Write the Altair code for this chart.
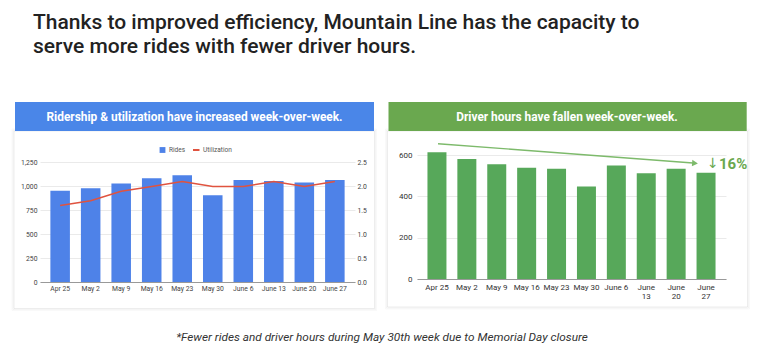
import altair as alt
import pandas as pd

weeks = ["Apr 25", "May 2", "May 9", "May 16", "May 23", "May 30", "June 6", "June 13", "June 20", "June 27"]
rides = [955, 980, 1030, 1084, 1117, 908, 1066, 1056, 1042, 1066]
utilization = [1.6, 1.7, 1.9, 2.0, 2.1, 2.0, 2.0, 2.1, 2.0, 2.1]
driver_hours = [614, 582, 556, 539, 534, 448, 550, 513, 534, 515]

title_lines = ["Thanks to improved efficiency, Mountain Line has the capacity to",
               "serve more rides with fewer driver hours."]
left_header = "Ridership & utilization have increased week-over-week."
right_header = "Driver hours have fallen week-over-week."
footnote = "*Fewer rides and driver hours during May 30th week due to Memorial Day closure"
change_arrow = "↓"
change_label = "16%"

FONT = "Roboto"
BLUE = "#4e82e8"
BLUE_HDR = "#4a86e8"
RED = "#e0533f"
GREEN = "#57a85a"
GREEN_HDR = "#6aa84f"

df = pd.DataFrame({"week": weeks, "rides": rides, "util": utilization, "hours": driver_hours})
one = pd.DataFrame({"k": [0]})

# page -> panel-local pixel helpers
LX0, RX0, Y0 = 40, 417, 134
LW, RW = 315, 309
LH, RH = 148, 145


def lx(v):
    return v - LX0


def rx(v):
    return v - RX0


def yy(v):
    return v - Y0


def rect(x1, x2, y1, y2, **kw):
    return alt.Chart(one).mark_rect(**kw).encode(
        x=alt.value(x1), x2=alt.value(x2), y=alt.value(y1), y2=alt.value(y2))


def text(s, x, y, **kw):
    return alt.Chart(one).mark_text(**kw).encode(
        x=alt.value(x), y=alt.value(y), text=alt.value(s))


def card(x1, x2, y1, y2):
    layers = []
    for d, op in [(3, 0.025), (2, 0.04), (1, 0.07)]:
        layers.append(rect(x1 - d, x2 + d, y1 - d + 1, y2 + d + 1,
                           fill="white", fillOpacity=0, stroke="#000000",
                           strokeOpacity=op, strokeWidth=1))
    return layers


# ---------------- left panel ----------------
bg = rect(lx(8), lx(750), yy(8), yy(348), fill="white", fillOpacity=0, strokeOpacity=0)

left_card = card(lx(15), lx(373.5), yy(131), yy(306.5))
left_hdr = rect(lx(15), lx(374), yy(102), yy(131), fill=BLUE_HDR)
left_hdr_text = text(left_header, lx(194.5), yy(116.7), font=FONT, fontSize=11.9,
                     fontWeight="bold", color="white", align="center", baseline="middle")
t1 = text(title_lines[0], lx(33), yy(22.5), font=FONT, fontSize=21, fontWeight=500,
          color="#222222", align="left", baseline="middle")
t2 = text(title_lines[1], lx(33), yy(46.5), font=FONT, fontSize=21, fontWeight=500,
          color="#222222", align="left", baseline="middle")
foot = text(footnote, lx(382), yy(337), font=FONT, fontSize=11.8, fontStyle="italic",
            color="#333333", align="center", baseline="middle")

leg_sq = alt.Chart(one).mark_square(filled=True, color=BLUE, opacity=1, size=34).encode(
    x=alt.value(lx(162.5)), y=alt.value(yy(150)))
leg_t1 = text("Rides", lx(169), yy(150), font=FONT, fontSize=6.5, color="#555555",
              align="left", baseline="middle")
leg_ln = alt.Chart(one).mark_rule(color=RED, strokeWidth=2).encode(
    x=alt.value(lx(193)), x2=alt.value(lx(199.5)), y=alt.value(yy(150)))
leg_t2 = text("Utilization", lx(203), yy(150), font=FONT, fontSize=6.5, color="#555555",
              align="left", baseline="middle")

xl = alt.X("week:N", sort=weeks, title=None,
           scale=alt.Scale(paddingInner=0.36, paddingOuter=0.34),
           axis=alt.Axis(labelAngle=0, labelFont=FONT, labelFontSize=6.8, labelColor="#444444",
                         labelPadding=3, ticks=False, domainColor="#999999", domainWidth=1,
                         grid=False))

bars_l = alt.Chart(df).mark_bar(color=BLUE).encode(
    x=xl,
    y=alt.Y("rides:Q", title=None,
            scale=alt.Scale(domain=[0, 1548], nice=False, zero=True),
            axis=alt.Axis(values=[0, 250, 500, 750, 1000, 1250],
                          labelExpr="format(datum.value, ',')",
                          labelFont=FONT, labelFontSize=6.8, labelColor="#444444",
                          labelPadding=3, ticks=False, domain=False,
                          gridColor="#e4e4e4", gridWidth=0.8)))
line_l = alt.Chart(df).mark_line(color=RED, strokeWidth=1.5).encode(
    x=xl,
    y=alt.Y("util:Q", title=None,
            scale=alt.Scale(domain=[0, 3.096], nice=False, zero=True),
            axis=alt.Axis(orient="right", values=[0, 0.5, 1.0, 1.5, 2.0, 2.5],
                          labelExpr="format(datum.value, '.1f')",
                          labelFont=FONT, labelFontSize=6.8, labelColor="#444444",
                          labelPadding=2, ticks=False, domain=False, grid=False)))

left = alt.layer(bg, *left_card, left_hdr, left_hdr_text, t1, t2, foot,
                 bars_l, line_l, leg_sq, leg_t1, leg_ln, leg_t2).resolve_scale(
    y="independent").properties(width=LW, height=LH)

# ---------------- right panel ----------------
right_card = card(rx(388.5), rx(746.5), yy(131), yy(305))
right_hdr = rect(rx(388.5), rx(746.7), yy(102), yy(131), fill=GREEN_HDR)
right_hdr_text = text(right_header, rx(567), yy(116.7), font=FONT, fontSize=11.9,
                      fontWeight="bold", color="white", align="center", baseline="middle")

bars_r = alt.Chart(df).mark_bar(color=GREEN).encode(
    x=alt.X("week:N", sort=weeks, title=None,
            scale=alt.Scale(paddingInner=0.365, paddingOuter=0.35),
            axis=alt.Axis(labelAngle=0, labelFont=FONT, labelFontSize=8, labelColor="#333333",
                          labelPadding=4, ticks=False, domainColor="#999999", domainWidth=1.2,
                          labelLineHeight=9.4, labelBaseline="top",
                          labelExpr="length(datum.label) > 6 ? split(datum.label, ' ') : datum.label")),
    y=alt.Y("hours:Q", title=None,
            scale=alt.Scale(domain=[0, 703], nice=False, zero=True),
            axis=alt.Axis(values=[0, 200, 400, 600], labelFont=FONT, labelFontSize=8,
                          labelColor="#333333", labelPadding=5, ticks=False, domain=False,
                          gridColor="#e4e4e4", gridWidth=0.8)))

arrow_line = alt.Chart(one).mark_rule(color="#7dba6b", strokeWidth=1.4).encode(
    x=alt.value(rx(438)), y=alt.value(yy(143.7)), x2=alt.value(rx(693)), y2=alt.value(yy(163)))
arrow_head = alt.Chart(one).mark_point(shape="triangle-right", filled=True, color="#7dba6b",
                                       opacity=1, size=45, angle=4).encode(
    x=alt.value(rx(695)), y=alt.value(yy(163.2)))
pct_arrow = text(change_arrow, rx(707), yy(163.5), font="DejaVu Sans", fontSize=14,
                 color=GREEN_HDR, align="left", baseline="middle")
pct = text(change_label, rx(719), yy(163.5), font=FONT, fontSize=15, fontWeight="bold",
           color=GREEN_HDR, align="left", baseline="middle")

right = alt.layer(*right_card, right_hdr, right_hdr_text, bars_r,
                  arrow_line, arrow_head, pct_arrow, pct).properties(width=RW, height=RH)

chart = alt.hconcat(left, right, spacing=RX0 - (LX0 + LW), bounds="flush").properties(
    padding=0, background="white").configure_view(stroke=None)

chart.save("out.html", embed_options={"renderer": "svg", "actions": False})
